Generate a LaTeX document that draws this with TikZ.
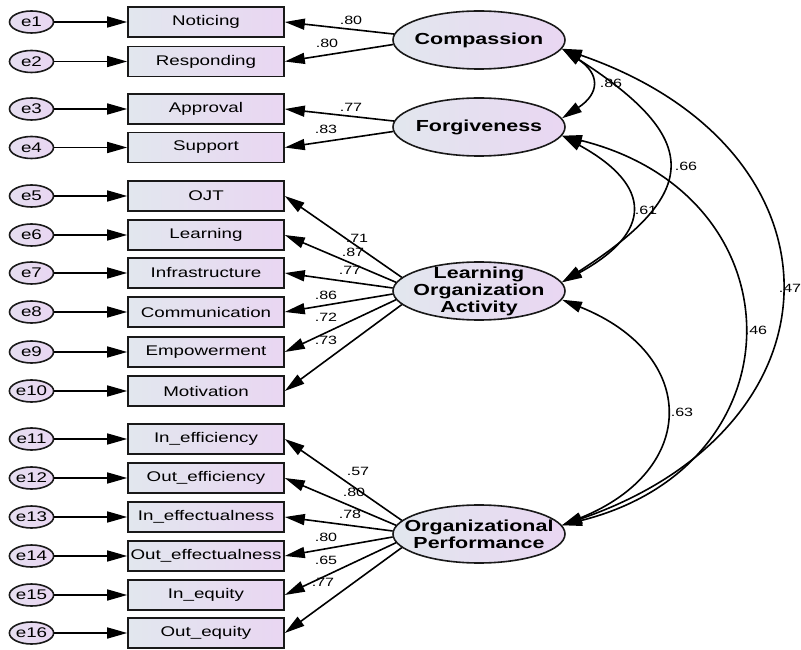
\documentclass[tikz,border=0pt]{standalone}
\usepackage{fontspec}
\setmainfont[FakeStretch=1.34]{Liberation Sans}
\usetikzlibrary{arrows.meta,shapes.geometric}
\definecolor{boxl}{RGB}{226,231,238}
\definecolor{boxr}{RGB}{233,214,242}
\definecolor{rim}{RGB}{25,25,25}
\tikzset{
  obs/.style={rectangle,draw=rim,line width=1.6pt,left color=boxl,right color=boxr,
    minimum width=156pt,minimum height=30pt,inner sep=0pt,font=\fontsize{14}{16}\selectfont},
  err/.style={ellipse,draw=rim,line width=1.6pt,left color=boxl!50!boxr,right color=boxr,
    minimum width=44pt,minimum height=22pt,inner sep=0pt,font=\fontsize{14}{15}\selectfont},
  latent/.style={ellipse,draw=rim,line width=1.6pt,left color=boxl,right color=boxr,
    minimum width=172pt,minimum height=58pt,inner sep=0pt},
  lattext/.style={align=center,inner sep=0pt,font=\fontsize{16}{17}\selectfont\bfseries},
  coef/.style={inner sep=0pt,font=\fontsize{12}{13}\selectfont},
  loadarr/.style={line width=1.6pt,-{Triangle[length=20pt,width=11pt]}},
  corrarr/.style={line width=1.6pt,{Triangle[length=20pt,width=11pt]}-{Triangle[length=20pt,width=11pt]}}
}
\begin{document}
\begin{tikzpicture}[x=1pt,y=1pt]
  \useasboundingbox (0,0) rectangle (801,649);
  % indicators and their error terms
  \foreach \i/\lab/\y in {1/Noticing/627,2/Responding/587.5,3/Approval/540,4/Support/501.5,
      5/OJT/453,6/Learning/414,7/Infrastructure/376,8/Communication/337,9/Empowerment/297,
      10/Motivation/258,11/In\_efficiency/210,12/Out\_efficiency/171,13/In\_effectualness/132,
      14/Out\_effectualness/93,15/In\_equity/54,16/Out\_equity/16}
  {
    \node[obs] (o\i) at (206,\y) {\lab};
    \node[err] (e\i) at (31.5,\y) {e\i};
    \draw[loadarr] (e\i) -- (o\i);
  }
  % latent variables
  \node[latent] (comp) at (479,609) {};
  \node[lattext] (compt) at (comp) {Compassion};
  \node[latent] (forg) at (479,522) {};
  \node[lattext] (forgt) at (forg) {Forgiveness};
  \node[latent] (loa) at (479,358) {};
  \node[lattext] (loat) at (loa) {Learning\\Organization\\Activity};
  \node[latent] (op) at (479,115) {};
  \node[lattext] (opt) at (op) {Organizational\\Performance};
  % loadings
  \foreach \i/\a in {1/176,2/183}
    \draw[loadarr] (comp.\a) -- (o\i.east);
  \foreach \i/\a in {3/176,4/183}
    \draw[loadarr] (forg.\a) -- (o\i.east);
  \foreach \i/\a in {5/170,6/174,7/178,8/182,9/186,10/190}
    \draw[loadarr] (loa.\a) -- (o\i.east);
  \foreach \i/\a in {11/170,12/174,13/178,14/182,15/186,16/190}
    \draw[loadarr] (op.\a) -- (o\i.east);
  \foreach \v/\x/\y [count=\i] in {.80/351/629,.80/327/606,.77/351/542,.83/326/520,
      .71/357/411,.87/353/397,.77/350/379,.86/326/354,.72/326/332,.73/326/309,
      .57/358/178,.80/354/157,.78/350/135,.80/326/112,.65/326/89,.77/323/67}
    \node[coef] (c\i) at (\x,\y) {\v};
  % correlations
  \draw[corrarr] (comp.-6) .. controls +(38,-25) and +(38,25) .. (forg.6);
  \draw[corrarr] (comp.-6) .. controls +(140,-90) and +(140,90) .. (loa.6);
  \draw[corrarr] (forg.-6) .. controls +(91,-50) and +(91,50) .. (loa.6);
  \draw[corrarr] (comp.-6) .. controls +(290,-100) and +(290,100) .. (op.6);
  \draw[corrarr] (forg.-6) .. controls +(240,-60) and +(240,60) .. (op.6);
  \draw[corrarr] (loa.-6) .. controls +(137,-55) and +(137,55) .. (op.6);
  \node[coef] (r1) at (611,566) {.86};
  \node[coef] (r2) at (686,483) {.66};
  \node[coef] (r3) at (646,439) {.61};
  \node[coef] (r4) at (790,361) {.47};
  \node[coef] (r5) at (756,319) {.46};
  \node[coef] (r6) at (682,237) {.63};
\end{tikzpicture}
\end{document}
